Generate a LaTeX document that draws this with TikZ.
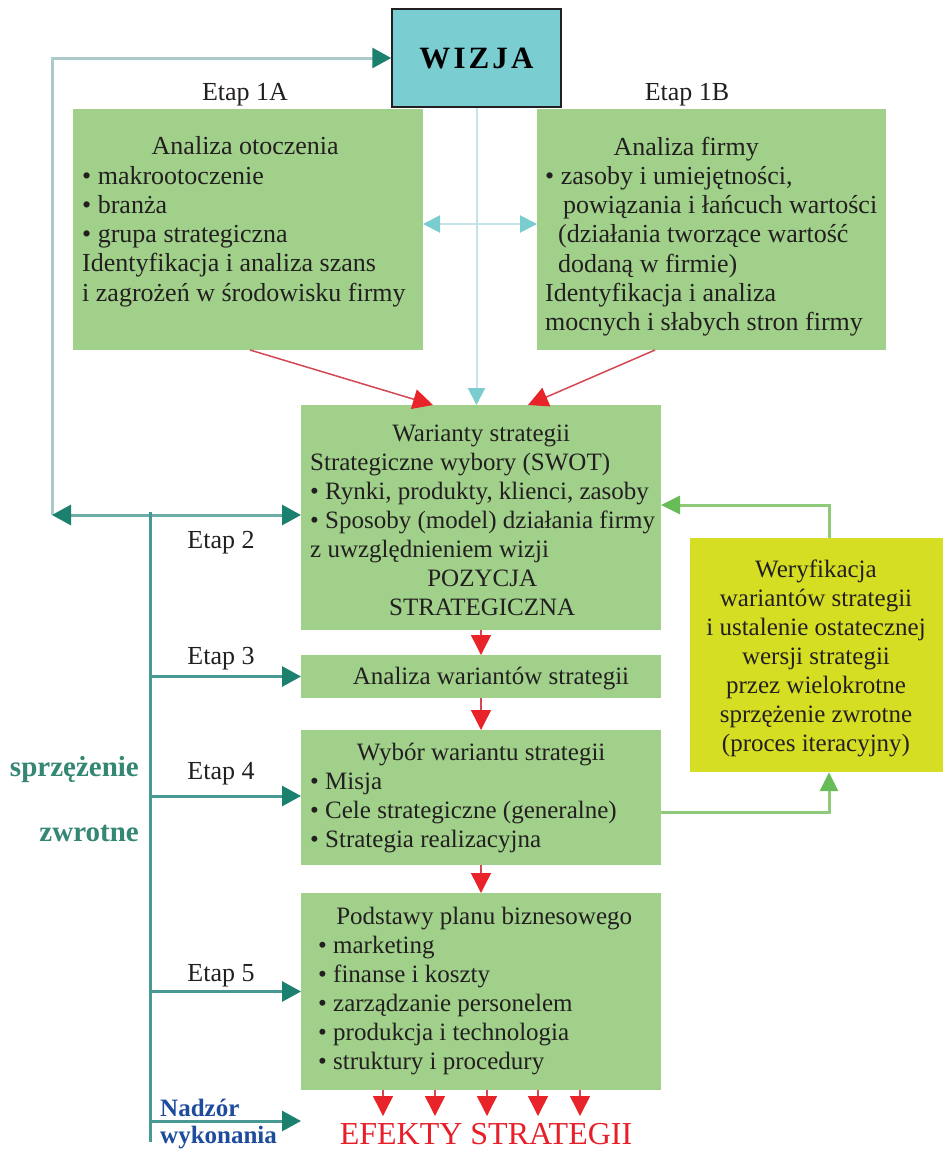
\documentclass[tikz,border=0pt]{standalone}
\usepackage{fontspec}
\setmainfont{Liberation Serif}
\usetikzlibrary{arrows.meta,calc}

\definecolor{boxgreen}{RGB}{160,208,138}
\definecolor{wizcyan}{RGB}{122,205,208}
\definecolor{iteryellow}{RGB}{213,222,34}
\definecolor{inkdark}{RGB}{35,31,32}
\definecolor{fbteal}{RGB}{72,152,148}
\definecolor{fbtip}{RGB}{28,128,110}
\definecolor{fbpale}{RGB}{172,202,202}
\definecolor{fbmid}{RGB}{110,172,168}
\definecolor{cyanline}{RGB}{196,228,232}
\definecolor{cyantip}{RGB}{122,204,207}
\definecolor{redline}{RGB}{212,72,84}
\definecolor{redtip}{RGB}{232,36,42}
\definecolor{loopline}{RGB}{142,202,122}
\definecolor{looptip}{RGB}{104,188,88}
\definecolor{fbtext}{RGB}{52,135,115}
\definecolor{nadzorblue}{RGB}{30,75,155}
\definecolor{efektred}{RGB}{232,30,40}

\newcommand\stagetopfont{\fontsize{26}{29.3}\selectfont}
\newcommand\stagefont{\fontsize{25}{29}\selectfont}

\begin{document}
\begin{tikzpicture}[x=1pt,y=-1pt,
  stagebox/.style={fill=boxgreen,draw=none,inner sep=0,outer sep=0},
  plaintext/.style={inner sep=0,yshift=-3pt},
  bodytext/.style={plaintext,text=inkdark,align=left,anchor=north west,execute at begin node=\strut},
  etaplabel/.style={plaintext,text=inkdark,font=\fontsize{26}{29}\selectfont},
  tealtip/.tip={Triangle[length=19pt,width=20pt,color=fbtip]},
  redtip/.tip={Triangle[length=20pt,width=20pt,color=redtip]},
  cyantip/.tip={Triangle[length=17pt,width=17pt,color=cyantip]},
  looptip/.tip={Triangle[length=19pt,width=18pt,color=looptip]},
  fbline/.style={draw=fbteal,line width=3pt},
  redarrow/.style={draw=redline,line width=1.5pt,-redtip},
  cyanarrow/.style={draw=cyanline,line width=2pt},
  looparrow/.style={draw=loopline,line width=3pt,-looptip}]
\useasboundingbox[fill=white] (0,0) rectangle (943,1152);

% --- vision and the two analyses
\node[fill=wizcyan,draw=inkdark,line width=1.5pt,minimum width=169,minimum height=98,inner sep=0]
  (wizja) at (476.5,58) {\fontsize{31}{31}\selectfont\bfseries\addfontfeature{LetterSpace=10}WIZJA};

\node[etaplabel] (e1a) at (245,92) {Etap 1A};
\node[etaplabel] (e1b) at (687,92) {Etap 1B};

\node[stagebox,minimum width=350,minimum height=241] (b1a) at (248,229.5) {};
\node[bodytext,font=\stagetopfont] (t1a) at (82,133.5)
  {\makebox[326pt]{Analiza otoczenia}\\
   • makrootoczenie\\
   • branża\\
   • grupa strategiczna\\
   Identyfikacja i analiza szans\\
   i zagrożeń w środowisku firmy};

\node[stagebox,minimum width=349,minimum height=241] (b1b) at (711.5,229.5) {};
\node[bodytext,font=\stagetopfont] (t1b) at (545,133.5)
  {\makebox[282pt]{Analiza firmy}\\
   • zasoby i umiejętności,\\
   \hspace*{18pt}powiązania i łańcuch wartości\\
   \hspace*{13pt}(działania tworzące wartość\\
   \hspace*{13pt}dodaną w firmie)\\
   Identyfikacja i analiza\\
   mocnych i słabych stron firmy};

% --- stages 2 to 5
\node[stagebox,minimum width=360,minimum height=225] (b2) at (481,517.5) {};
\node[bodytext,font=\stagefont] (t2) at (310,421.5)
  {\makebox[342pt]{Warianty strategii}\\
   Strategiczne wybory (SWOT)\\
   • Rynki, produkty, klienci, zasoby\\
   • Sposoby (model) działania firmy\\
   z uwzględnieniem wizji\\
   \makebox[344pt]{POZYCJA}\\
   \makebox[344pt]{STRATEGICZNA}};

\node[stagebox,minimum width=360,minimum height=43] (b3) at (481,676.5) {};
\node[plaintext,text=inkdark,font=\stagefont,yshift=1pt] (t3) at (491,676) {Analiza wariantów strategii};

\node[stagebox,minimum width=360,minimum height=135] (b4) at (481,797.5) {};
\node[bodytext,font=\stagefont] (t4) at (310,739.5)
  {\makebox[342pt]{Wybór wariantu strategii}\\
   • Misja\\
   • Cele strategiczne (generalne)\\
   • Strategia realizacyjna};

\node[stagebox,minimum width=360,minimum height=197] (b5) at (481,991.5) {};
\node[bodytext,font=\stagefont] (t5) at (318,903.5)
  {\makebox[332pt]{Podstawy planu biznesowego}\\
   • marketing\\
   • finanse i koszty\\
   • zarządzanie personelem\\
   • produkcja i technologia\\
   • struktury i procedury};

% --- iteration box
\node[fill=iteryellow,inner sep=0,minimum width=253,minimum height=234] (yel) at (816.5,655) {};
\node[plaintext,text=inkdark,align=center,anchor=north,font=\stagefont,execute at begin node=\strut]
  (tyel) at (816,556.5)
  {Weryfikacja\\
   wariantów strategii\\
   i ustalenie ostatecznej\\
   wersji strategii\\
   przez wielokrotne\\
   sprzężenie zwrotne\\
   (proces iteracyjny)};

% --- stage labels
\node[etaplabel] (e2) at (221,540) {Etap 2};
\node[etaplabel] (e3) at (221,656) {Etap 3};
\node[etaplabel] (e4) at (221,771) {Etap 4};
\node[etaplabel] (e5) at (221,973) {Etap 5};

\node[plaintext,text=fbtext,anchor=east,font=\fontsize{29}{29}\selectfont\bfseries] (fb1) at (139,767) {sprzężenie};
\node[plaintext,text=fbtext,anchor=east,font=\fontsize{29}{29}\selectfont\bfseries] (fb2) at (139,830) {zwrotne};

\node[plaintext,text=nadzorblue,anchor=west,font=\fontsize{25}{25}\selectfont\bfseries] (nz1) at (160,1105) {Nadzór};
\node[plaintext,text=nadzorblue,anchor=west,font=\fontsize{25}{25}\selectfont\bfseries] (nz2) at (160,1135) {wykonania};

\node[plaintext,text=efektred,font=\fontsize{32}{32}\selectfont] (efekty) at (486,1131) {EFEKTY STRATEGII};

% --- connectors from the analyses into stage 2
\draw[cyanarrow,-cyantip] (wizja.south) -- (wizja.south |- b2.north);
\draw[cyanarrow,cyantip-cyantip] ([yshift=5.5pt]b1a.east) -- ([yshift=5.5pt]b1b.west);
\draw[redarrow] ([xshift=2pt]b1a.south) -- ([xshift=-48pt]b2.north);
\draw[redarrow] ([xshift=-56.5pt]b1b.south) -- ([xshift=47pt]b2.north);

% --- flow between the stages
\draw[redarrow] (b2.south) -- (b3.north);
\draw[redarrow] (b3.south) -- (b4.north);
\draw[redarrow] (b4.south) -- (b5.north);
\foreach \dx in {-98,-46,6,57,99}
  \draw[redarrow] ([xshift=\dx pt]b5.south) -- ([xshift=\dx pt,yshift=-26pt]b5.south);

% --- iteration loop
\draw[looparrow] ([xshift=12.5pt]yel.north) |- ([yshift=12.5pt]b2.east);
\draw[looparrow] ([yshift=-14.5pt]b4.east) -| ([xshift=12.5pt]yel.south);

% --- feedback lines
\coordinate (fbcorner) at (52,515);
\coordinate (fbjoin) at (150,515);
\coordinate (fbend) at (150,1142);
\coordinate (nadzor) at (301,1121);
\draw[draw=fbpale,line width=3pt,-tealtip] (fbcorner) |- (wizja.west);
\draw[draw=fbmid,line width=3pt,tealtip-tealtip] (fbcorner) -- (fbcorner -| b2.west);
\draw[fbline] ([yshift=3pt]fbjoin) -- (fbend);
\draw[fbline,-tealtip] (fbjoin |- b3.west) -- (b3.west);
\draw[fbline,-tealtip] ([yshift=1.5pt]fbjoin |- b4.west) -- ([yshift=1.5pt]b4.west);
\draw[fbline,-tealtip] (fbjoin |- b5.west) -- (b5.west);
\draw[fbline,-tealtip] (fbjoin |- nadzor) -- (nadzor);
\end{tikzpicture}
\end{document}
